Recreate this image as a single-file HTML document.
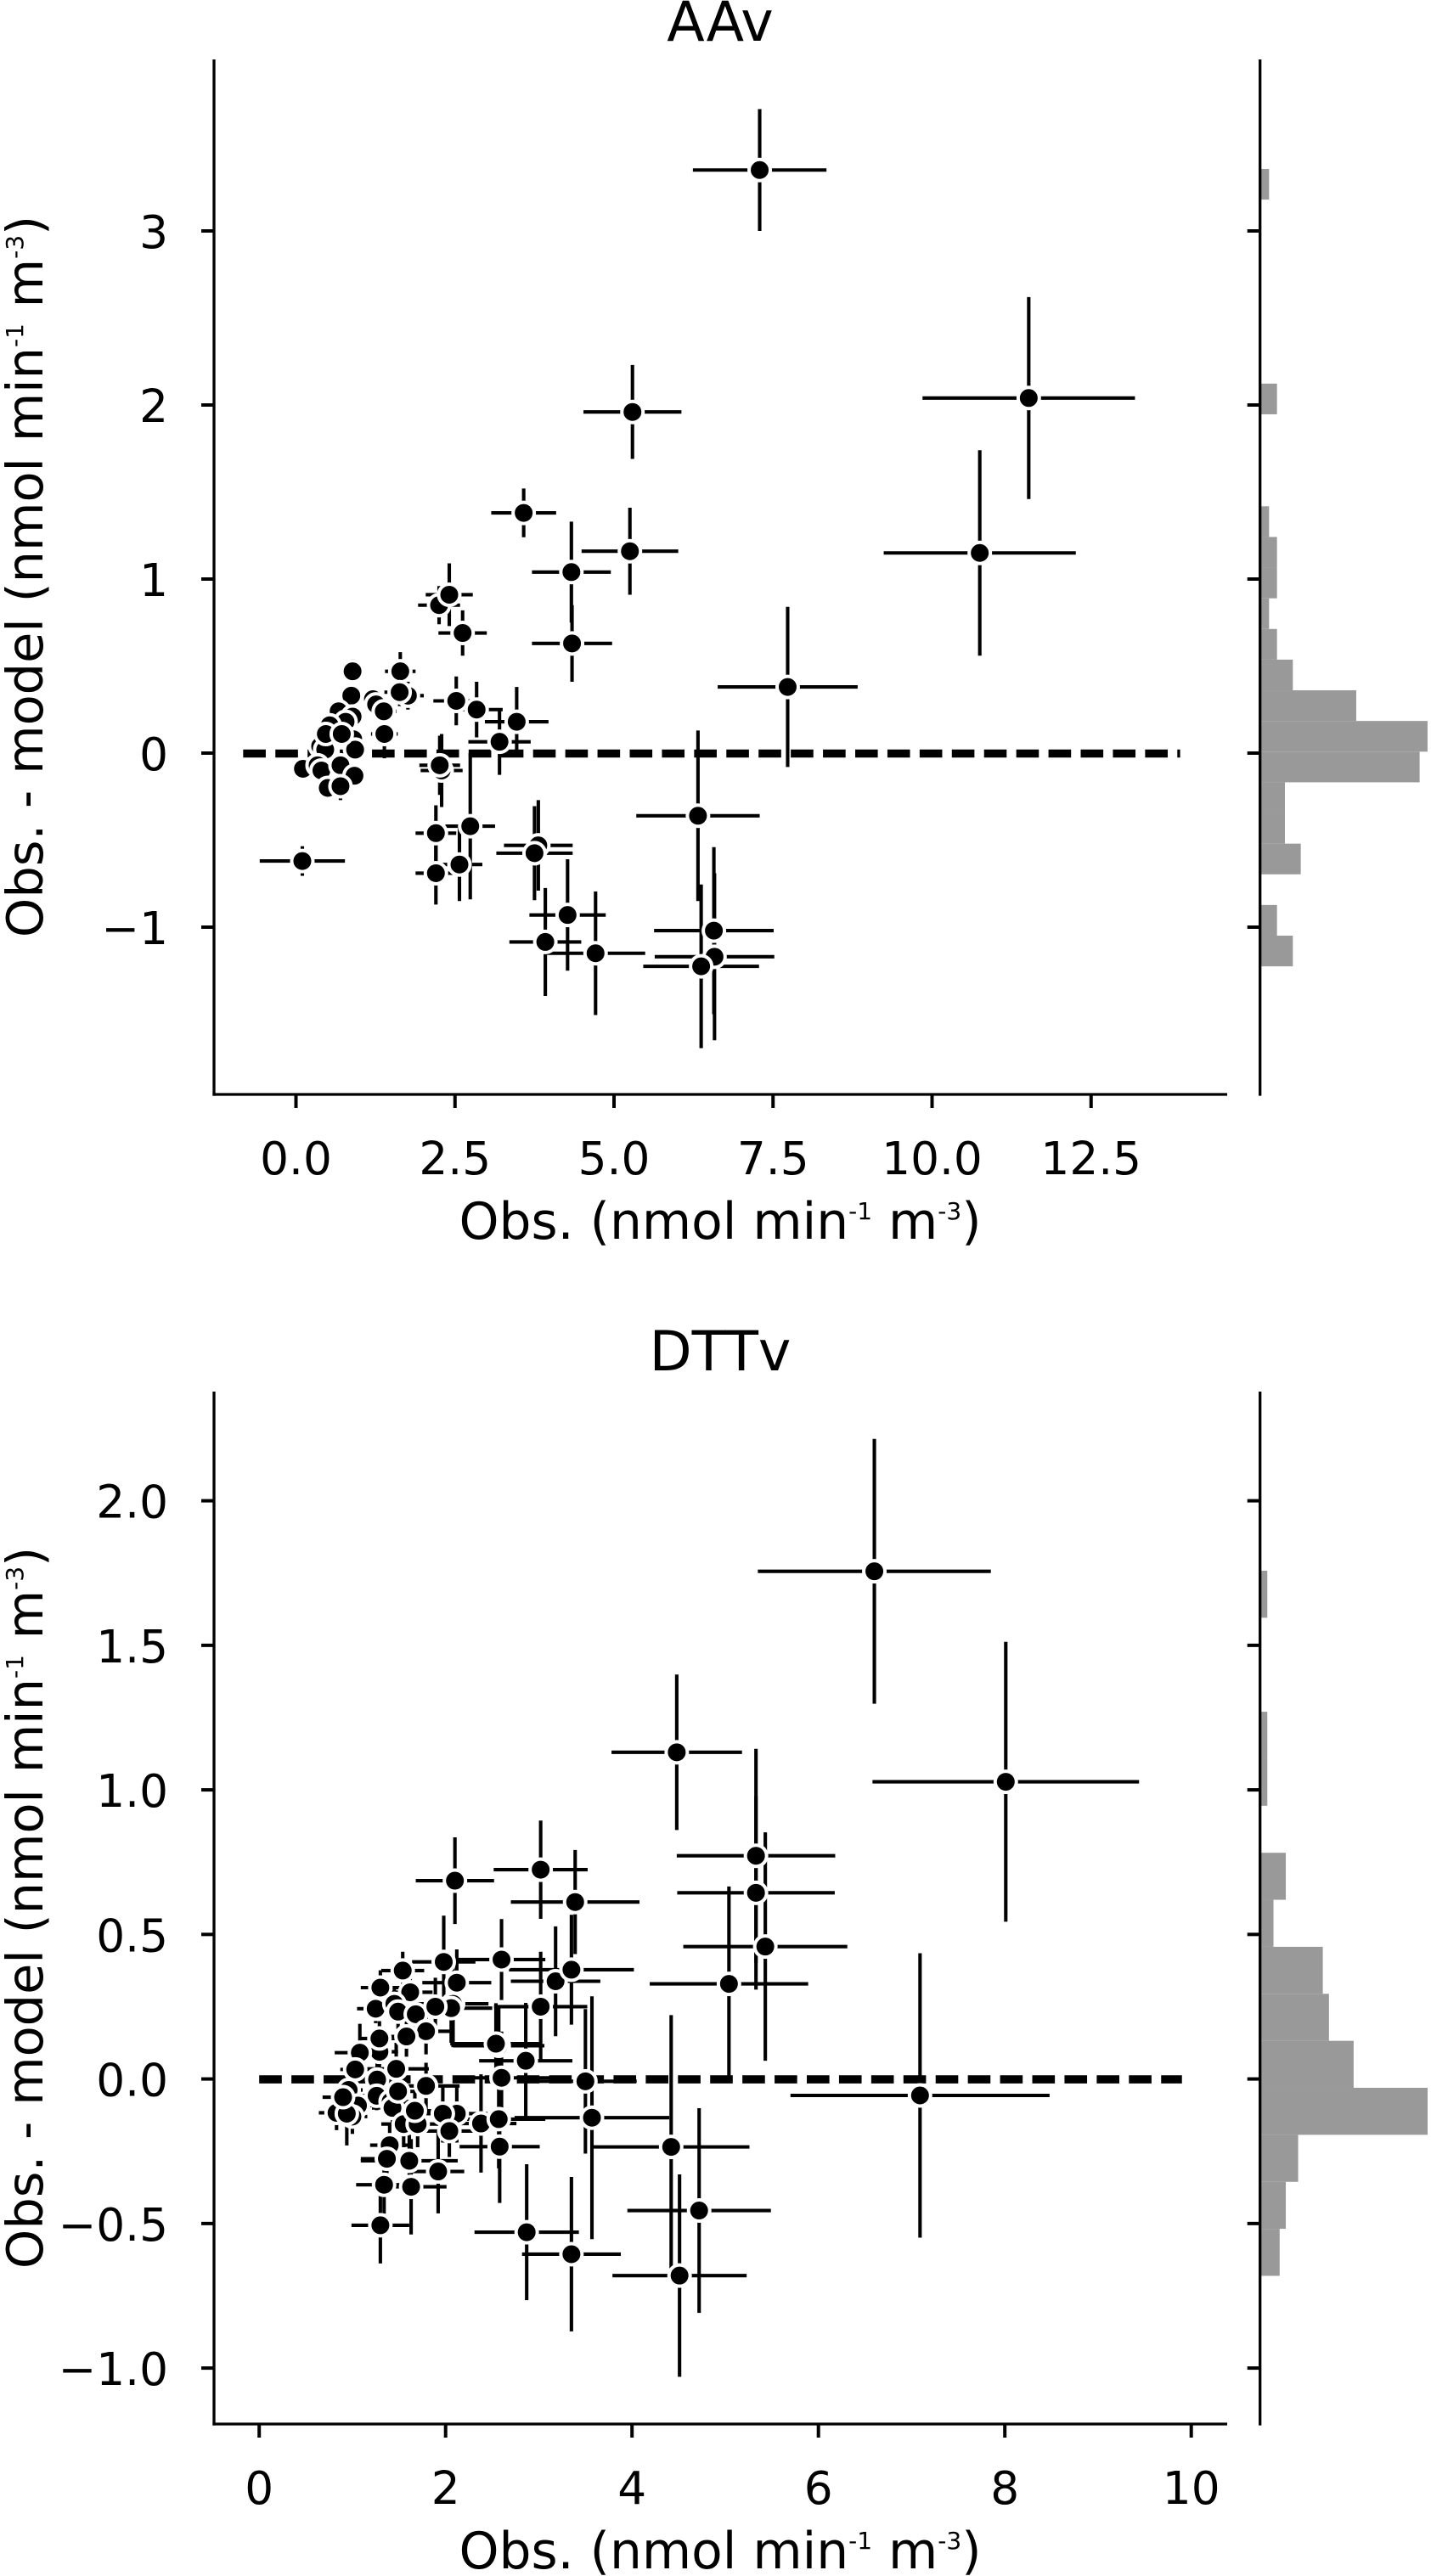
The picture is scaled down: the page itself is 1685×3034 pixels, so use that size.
<!DOCTYPE html>
<html lang="en">
<head>
<meta charset="utf-8">
<title>AAv and DTTv residuals</title>
<style>
html,body{margin:0;padding:0;background:#fff;}
svg{display:block;}
text{font-family:"DejaVu Sans","Liberation Sans",sans-serif;fill:#000;}
.tick-label{font-size:53.3px;}
.axis-label{font-size:59.8px;}
.y-axis-label{font-size:59px;}
.chart-title{font-size:65px;text-anchor:middle;}
</style>
</head>
<body>
<svg id="chart" xmlns="http://www.w3.org/2000/svg" width="1685" height="3034" viewBox="0 0 1685 3034">
  <rect x="0" y="0" width="1685" height="3034" fill="#fff"/>

  <g id="panel-aav"></g>
  <text class="chart-title" x="848" y="48">AAv</text>
  <text class="axis-label" x="848" y="1459" text-anchor="middle">Obs. (nmol min<tspan font-size="28" dy="-23">-1</tspan><tspan dy="23"> m</tspan><tspan font-size="28" dy="-23">-3</tspan><tspan dy="23">)</tspan></text>
  <text class="y-axis-label" transform="translate(50 679) rotate(-90)" x="0" y="0" text-anchor="middle">Obs. - model (nmol min<tspan font-size="28" dy="-23">-1</tspan><tspan dy="23"> m</tspan><tspan font-size="28" dy="-23">-3</tspan><tspan dy="23">)</tspan></text>

  <g id="panel-dttv"></g>
  <text class="chart-title" x="848" y="1614">DTTv</text>
  <text class="axis-label" x="848" y="3025" text-anchor="middle">Obs. (nmol min<tspan font-size="28" dy="-23">-1</tspan><tspan dy="23"> m</tspan><tspan font-size="28" dy="-23">-3</tspan><tspan dy="23">)</tspan></text>
  <text class="y-axis-label" transform="translate(50 2247) rotate(-90)" x="0" y="0" text-anchor="middle">Obs. - model (nmol min<tspan font-size="28" dy="-23">-1</tspan><tspan dy="23"> m</tspan><tspan font-size="28" dy="-23">-3</tspan><tspan dy="23">)</tspan></text>
</svg>

<script>
// ---------- AAv data ----------
const aavObs = [7.29,11.52,10.75,5.29,3.58,5.25,4.33,4.34,2.25,2.41,2.62,.89,1.64,1.76,1.63,1.21,1.26,1.38,1.39,.87,.67,.89,.78,.53,.90,.93,.38,.46,.47,.72,.11,.34,.40,.70,.92,.50,.70,2.29,2.26,2.52,2.84,3.47,3.20,2.74,2.20,2.20,2.57,.10,3.81,3.75,4.27,3.92,4.71,6.32,7.73,6.57,6.58,6.37];
const aavResidual = [3.35,2.04,1.15,1.96,1.38,1.16,1.04,.63,.85,.91,.69,.47,.47,.33,.35,.31,.28,.24,.11,.33,.24,.21,.18,.16,.08,.02,.04,.02,.11,.11,-.09,-.07,-.10,-.07,-.13,-.20,-.19,-.10,-.07,.30,.25,.18,.065,-.42,-.46,-.69,-.64,-.62,-.53,-.575,-.93,-1.085,-1.15,-.36,.38,-1.02,-1.17,-1.225];
const aavObsErr = [1.05,1.67,1.51,.77,.51,.76,.62,.63,.33,.37,.38,.13,.24,.25,.24,.18,.18,.2,.21,.13,.1,.13,.11,.08,.13,.13,.06,.07,.07,.1,.05,.05,.06,.1,.13,.08,.1,.33,.32,.36,.41,.50,.49,.39,.32,.32,.36,.67,.54,.60,.60,.565,.78,.97,1.10,.94,.94,.91];
const aavResidualErr = [.35,.58,.59,.27,.14,.25,.29,.22,.11,.18,.13,.07,.11,.08,.08,.06,.06,.08,.14,.05,.04,.05,.04,.03,.05,.05,.02,.03,.03,.04,.02,.02,.02,.04,.05,.03,.08,.21,.17,.14,.16,.20,.19,.42,.16,.18,.21,.085,.26,.27,.32,.31,.355,.49,.46,.48,.48,.47];
const aavHistCounts = [4,2,0,5,3,3,20,21,12,4,2,1,2,2,1,0,0,0,2,0,0,0,0,0,0,1];
const aavHistStart = -1.225;
const aavHistBinWidth = 0.1762;
const aavXTicks = [0,2.5,5,7.5,10,12.5];
const aavXTickLabels = ["0.0","2.5","5.0","7.5","10.0","12.5"];
const aavYTicks = [-1,0,1,2,3];
const aavYTickLabels = ["\u22121","0","1","2","3"];
const aavRefLineX = [-0.83,13.9];

// ---------- DTTv data ----------
const dttvObs = [6.60,8.01,4.48,5.33,5.33,5.43,5.04,7.09,4.42,4.72,4.51,3.02,3.39,2.10,1.98,2.60,3.18,3.35,2.12,1.54,1.30,1.62,1.25,1.45,1.49,1.68,2.08,2.06,1.89,3.02,1.79,1.58,1.29,1.29,1.08,2.57,2.54,2.86,1.03,1.47,1.265,1.79,2.60,3.50,1.26,.96,1.41,1.43,1.49,1.06,1.0,.83,.94,.90,1.55,1.70,1.67,2.12,1.97,2.04,2.38,2.57,3.57,2.58,1.40,1.37,1.61,1.92,1.34,1.63,1.30,2.87,3.35];
const dttvResidual = [1.756,1.028,1.13,.772,.644,.458,.329,-.057,-.235,-.455,-.68,.724,.612,.686,.405,.413,.338,.378,.333,.375,.316,.30,.243,.26,.233,.224,.26,.245,.25,.25,.165,.147,.094,.14,.091,.115,.122,.063,.033,.035,-.002,-.024,.004,-.008,-.058,-.038,-.078,-.10,-.043,-.092,-.13,-.117,-.12,-.063,-.156,-.156,-.11,-.12,-.12,-.18,-.154,-.139,-.134,-.234,-.229,-.276,-.283,-.32,-.366,-.373,-.506,-.53,-.606];
const dttvObsErr = [1.25,1.43,.70,.85,.845,.88,.85,1.39,.84,.77,.72,.504,.69,.42,.34,.47,.48,.67,.37,.23,.21,.24,.20,.2,.22,.25,.38,.44,.3,.50,.26,.22,.2,.2,.27,.49,.49,.50,.16,.35,.19,.36,.52,.55,.19,.15,.2,.22,.22,.16,.16,.19,.16,.22,.24,.26,.25,.33,.3,.37,.38,.5,.83,.43,.21,.28,.52,.28,.30,.38,.31,.56,.53];
const dttvResidualErr = [.458,.484,.269,.37,.335,.395,.337,.492,.456,.354,.35,.17,.18,.15,.16,.14,.19,.19,.115,.065,.06,.075,.05,.05,.06,.06,.15,.12,.1,.19,.08,.07,.06,.06,.1,.14,.14,.20,.05,.09,.06,.08,.16,.25,.05,.05,.06,.06,.07,.06,.06,.06,.11,.06,.08,.08,.07,.1,.1,.09,.17,.17,.42,.195,.07,.08,.09,.145,.1,.165,.132,.235,.267];
const dttvHistCounts = [3,4,6,27,15,11,10,2,4,0,1,1,0,0,1];
const dttvHistStart = -0.681;
const dttvHistBinWidth = 0.1626;
const dttvXTicks = [0,2,4,6,8,10];
const dttvXTickLabels = ["0","2","4","6","8","10"];
const dttvYTicks = [-1,-0.5,0,0.5,1,1.5,2];
const dttvYTickLabels = ["\u22121.0","\u22120.5","0.0","0.5","1.0","1.5","2.0"];
const dttvRefLineX = [0,9.9];

// ---------- drawing ----------
const SVGNS = "http://www.w3.org/2000/svg";
function make(tag, parent, props) {
  const el = document.createElementNS(SVGNS, tag);
  for (const k in props) el.setAttribute(k, props[k]);
  parent.appendChild(el);
  return el;
}
function seg(parent, x1, y1, x2, y2, width, color) {
  return make("line", parent, {x1:x1, y1:y1, x2:x2, y2:y2, stroke:color || "#000", "stroke-width":width});
}

function drawPanel(root, prefix, cfg, obs, residual, obsErr, residualErr, histCounts, histStart, histBin, xTicks, xLabels, yTicks, yLabels, refX) {
  const xScale = v => cfg.x0 + v * cfg.xUnit;
  const yScale = v => cfg.y0 - v * cfg.yUnit;
  const histScale = c => c * cfg.histUnit;

  // histogram in right margin
  const hist = make("g", root, {});
  
  
  histCounts.forEach((count, i) => {
    if (!count) return;
    const top = yScale(histStart + (i + 1) * histBin);
    const bottom = yScale(histStart + i * histBin);
    const bar = make("rect", hist, {x:cfg.histX, y:top, width:histScale(count), height:bottom - top, fill:"#999999"});
    
    
  });

  // reference line
  const ref = seg(root, xScale(refX[0]), yScale(0) + 0.5, xScale(refX[1]), yScale(0) + 0.5, 9.6);
  ref.setAttribute("stroke-dasharray", "26.6 11.33");
  
  

  // error bars
  const bars = make("g", root, {});
  
  
  obs.forEach((v, i) => {
    const h = seg(bars, xScale(v - obsErr[i]), yScale(residual[i]), xScale(v + obsErr[i]), yScale(residual[i]), 4.1);
    
    
    const w = seg(bars, xScale(v), yScale(residual[i] - residualErr[i]), xScale(v), yScale(residual[i] + residualErr[i]), 4.1);
    
    
  });

  // points
  const points = make("g", root, {});
  
  
  obs.forEach((v, i) => {
    const c = make("circle", points, {cx:xScale(v), cy:yScale(residual[i]), r:12.5, fill:"#000", stroke:"#fff", "stroke-width":4});
    
    
  });

  // spines
  const left = seg(root, cfg.left, cfg.top, cfg.left, cfg.bottom + 1.6, 3.3);
  
  
  const bottom = seg(root, cfg.left - 1.6, cfg.bottom, cfg.right, cfg.bottom, 3.3);
  
  
  const marg = seg(root, cfg.margin, cfg.top, cfg.margin, cfg.bottom + 1.6, 3.3);
  
  

  // x ticks
  xTicks.forEach((t, i) => {
    const m = seg(root, xScale(t), cfg.bottom, xScale(t), cfg.bottom + 16, 4);
    
    
    const txt = make("text", root, {x:xScale(t), y:cfg.bottom + 94, "text-anchor":"middle", "class":"tick-label"});
    txt.textContent = xLabels[i];
    
    
  });

  // y ticks
  yTicks.forEach((t, i) => {
    const m = seg(root, cfg.left - 15, yScale(t), cfg.left, yScale(t), 4);
    
    
    const m2 = seg(root, cfg.margin - 15, yScale(t), cfg.margin, yScale(t), 4);
    
    
    const txt = make("text", root, {x:198, y:yScale(t) + 20, "text-anchor":"end", "class":"tick-label"});
    txt.textContent = yLabels[i];
    
    
  });
}

drawPanel(document.getElementById("panel-aav"), "aav",
  {x0:348.5, xUnit:74.9, y0:887, yUnit:205, left:252, right:1445, top:70, bottom:1289, margin:1483.7, histX:1485, histUnit:9.33},
  aavObs, aavResidual, aavObsErr, aavResidualErr, aavHistCounts, aavHistStart, aavHistBinWidth,
  aavXTicks, aavXTickLabels, aavYTicks, aavYTickLabels, aavRefLineX);

drawPanel(document.getElementById("panel-dttv"), "dttv",
  {x0:305.2, xUnit:109.75, y0:2448.6, yUnit:340.5, left:252, right:1445, top:1639, bottom:2855, margin:1483.7, histX:1485, histUnit:7.26},
  dttvObs, dttvResidual, dttvObsErr, dttvResidualErr, dttvHistCounts, dttvHistStart, dttvHistBinWidth,
  dttvXTicks, dttvXTickLabels, dttvYTicks, dttvYTickLabels, dttvRefLineX);
</script>
</body>
</html>
